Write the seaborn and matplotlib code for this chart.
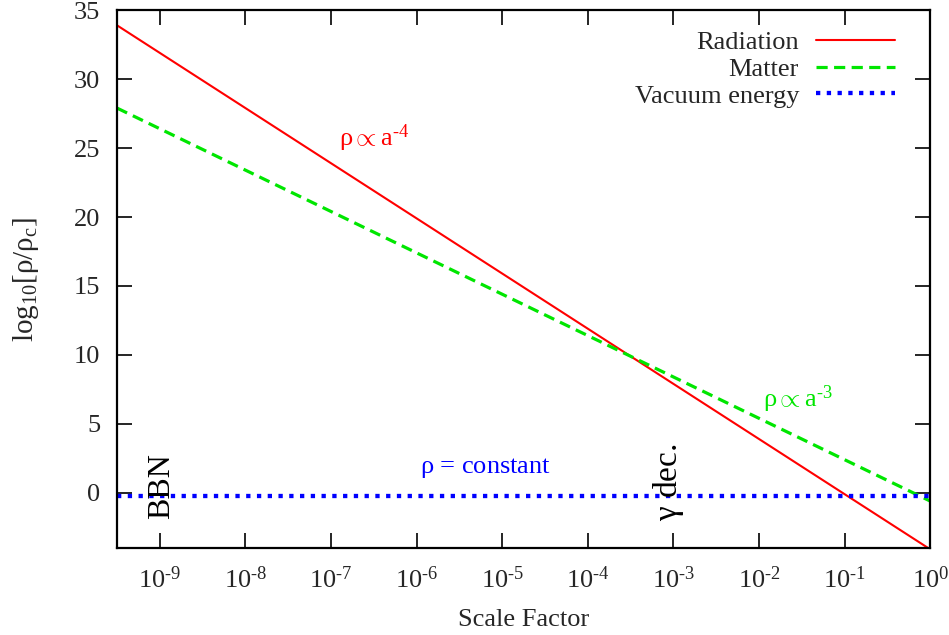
import numpy as np
import pandas as pd
import matplotlib
matplotlib.use("Agg")
import matplotlib.pyplot as plt
import seaborn as sns
from matplotlib.ticker import FixedLocator, NullLocator

# ==========================================
# data (straight lines in log-log)
# ==========================================
scale_factor = [10 ** -9.5, 1.0]
radiation = [33.9, -4.1]
matter = [27.9, -0.6]
vacuum = [-0.2, -0.2]

series_names = ["Radiation", "Matter", "Vacuum energy"]
series_colors = ["#ff0000", "#00e600", "#0000ff"]

y_ticks = [0, 5, 10, 15, 20, 25, 30, 35]
x_tick_exps = [-9, -8, -7, -6, -5, -4, -3, -2, -1, 0]

# ==========================================
# style
# ==========================================
sns.set_style("ticks")
plt.rcParams["font.family"] = ["Liberation Serif", "DejaVu Serif"]
plt.rcParams["mathtext.fontset"] = "custom"
plt.rcParams["mathtext.rm"] = "Liberation Serif"
plt.rcParams["mathtext.it"] = "Liberation Serif:italic"
plt.rcParams["mathtext.bf"] = "Liberation Serif:bold"

FS = 19

df = pd.DataFrame({
    "a": scale_factor * 3,
    "rho": radiation + matter + vacuum,
    "kind": [n for n in series_names for _ in range(2)],
})

fig = plt.figure(figsize=(9.49, 6.35), dpi=100)
ax = fig.add_axes([0.1233, 0.137, 0.857, 0.847])

dash_styles = {"Radiation": "", "Matter": (3.5, 2.0), "Vacuum energy": (1.0, 1.5)}
sns.lineplot(
    data=df, x="a", y="rho", hue="kind", style="kind",
    palette=dict(zip(series_names, series_colors)),
    dashes=dash_styles, ax=ax, legend=False,
)
widths = [1.5, 2.3, 3.1]
for line, lw in zip(ax.get_lines(), widths):
    line.set_linewidth(lw)
    line.set_solid_capstyle("butt")
    line.set_dash_capstyle("butt")

ax.set_xscale("log")
ax.set_xlim(10 ** -9.5, 1.0)
ax.set_ylim(-4, 35)


def exp_label(e):
    if e < 0:
        return r"$\mathrm{10}^{\text{-}\mathrm{%d}}$" % abs(e)
    return r"$\mathrm{10}^{\mathrm{%d}}$" % e


ax.xaxis.set_major_locator(FixedLocator([10.0 ** e for e in x_tick_exps]))
ax.xaxis.set_minor_locator(NullLocator())
ax.set_xticklabels([exp_label(e) for e in x_tick_exps])
ax.set_yticks(y_ticks)

ax.tick_params(axis="both", which="major", direction="in", length=11, width=1.2,
               top=True, right=True, labelsize=FS, color="black")
ax.tick_params(axis="x", pad=13)
ax.tick_params(axis="y", pad=12)
for s in ax.spines.values():
    s.set_linewidth(1.6)
    s.set_color("black")

ax.set_xlabel("Scale Factor", fontsize=FS, labelpad=12)
ax.set_ylabel(r"$\mathrm{log_{10}[\rho/\rho_c]}$", fontsize=FS + 2, labelpad=24)

# legend: text on the left, line sample on the right
handles = [plt.Line2D([], [], color=c, lw=lw, ls=ls)
           for c, lw, ls in zip(series_colors, widths,
                                ["-", (0, (3.5, 2.0)), (0, (1.0, 1.5))])]
leg = ax.legend(handles, series_names, loc="upper right", frameon=False,
                markerfirst=False, fontsize=FS, handlelength=3.0,
                handletextpad=0.65, labelspacing=0.13,
                borderaxespad=0.0, bbox_to_anchor=(0.97, 0.982))

# annotations
ax.text(10 ** -6.5, 25.7, r"$\mathrm{\rho \propto a}^{\text{-}\mathrm{4}}$",
        color="#ff0000", fontsize=FS, ha="center", va="center")
ax.text(10 ** -1.55, 6.8, r"$\mathrm{\rho \propto a}^{\text{-}\mathrm{3}}$",
        color="#00e600", fontsize=FS, ha="center", va="center")
ax.text(10 ** -5.2, 1.8, r"$\mathrm{\rho}$ = constant", color="#0000ff",
        fontsize=FS, ha="center", va="center")
ax.text(10 ** -8.98, 0.5, "BBN", color="black", fontsize=23, rotation=90,
        ha="center", va="center")
ax.text(10 ** -3.06, 0.8, r"$\mathrm{\gamma}$ dec.", color="black", fontsize=24,
        rotation=90, ha="center", va="center")

fig.savefig("out.png", dpi=100)
